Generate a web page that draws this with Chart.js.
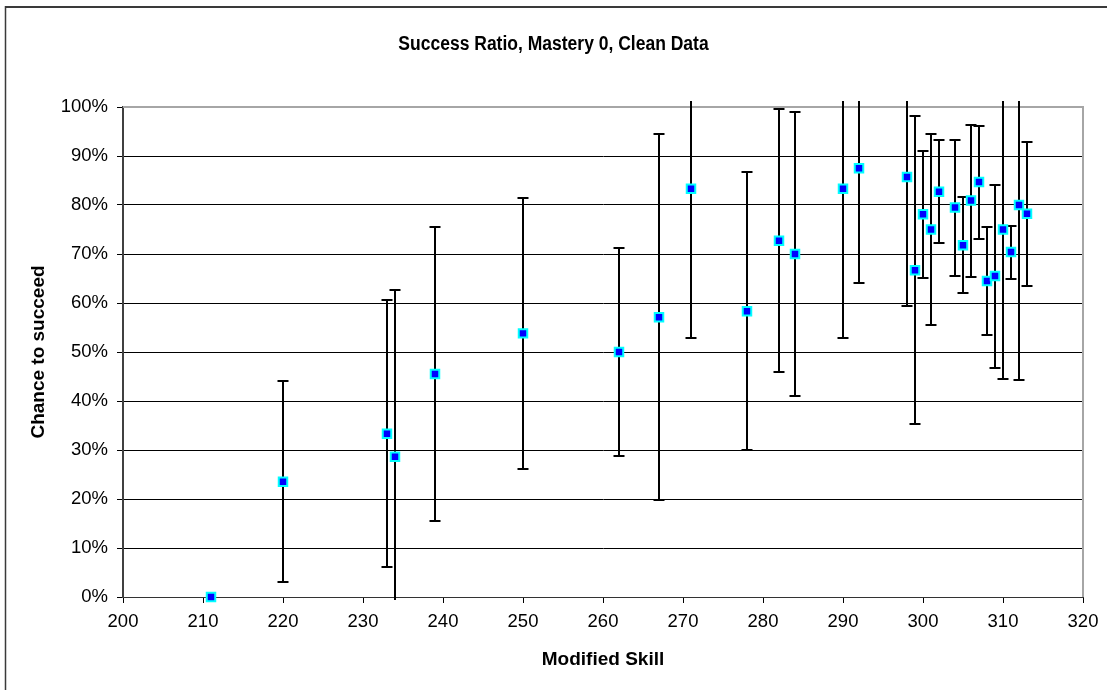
<!DOCTYPE html>
<html>
<head>
<meta charset="utf-8">
<title>Success Ratio, Mastery 0, Clean Data</title>
<script src="https://cdn.jsdelivr.net/npm/chart.js@4/dist/chart.umd.min.js"></script>
<style>
  html, body { margin: 0; padding: 0; background: #fff; }
  #wrap { width: 1107px; height: 690px; }
</style>
</head>
<body>
<div id="wrap"><canvas id="c" width="1107" height="690"></canvas></div>
<script>
// Modified skill level of each group of attempts
const skill = [211, 220, 233, 234, 239, 250, 262, 267, 271, 278, 282, 284, 290, 292, 298,
               299, 300, 301, 302, 304, 305, 306, 307, 308, 309, 310, 311, 312, 313];
// Observed success ratio (%)
const ratio = [0, 23.5, 33.3, 28.6, 45.5, 53.8, 50.0, 57.1, 83.3, 58.3, 72.7, 70.0, 83.3, 87.5, 85.7,
               66.7, 78.1, 75.0, 82.7, 79.5, 71.8, 80.9, 84.7, 64.5, 65.5, 75.0, 70.4, 80.0, 78.2];
// Lower and upper ends of each error bar (%)
const errLow  = [0, 3.0, 6.1, -5.5, 15.5, 26.2, 28.7, 19.8, 52.9, 29.9, 45.9, 41.0, 52.9, 64.1, 59.3,
                 35.3, 65.2, 55.6, 72.2, 65.6, 62.0, 65.4, 73.1, 53.5, 46.8, 44.4, 65.0, 44.2, 63.5];
const errHigh = [0, 44.0, 60.6, 62.7, 75.5, 81.4, 71.3, 94.5, 113.7, 86.8, 99.5, 99.0, 113.7, 110.9, 112.1,
                 98.1, 91.0, 94.4, 93.2, 93.3, 81.6, 96.3, 96.2, 75.5, 84.1, 105.6, 75.8, 115.8, 92.8];
// Axis ticks
const xTicks = [200, 210, 220, 230, 240, 250, 260, 270, 280, 290, 300, 310, 320];
const yTicks = [0, 10, 20, 30, 40, 50, 60, 70, 80, 90, 100];
const chartTitle = 'Success Ratio, Mastery 0, Clean Data';

const FONT = "'Liberation Sans', Arial, Helvetica, sans-serif";

// Outer chart frame and the (slightly condensed) bold chart title
const chartFrame = {
  id: 'chartFrame',
  beforeDraw(chart) {
    const ctx = chart.ctx;
    ctx.save();
    ctx.strokeStyle = '#3a3a3a';
    ctx.lineWidth = 2;
    ctx.beginPath();
    ctx.moveTo(5, 7); ctx.lineTo(chart.width, 7);
    ctx.stroke();
    ctx.lineWidth = 1.5;
    ctx.beginPath();
    ctx.moveTo(5.5, 6); ctx.lineTo(5.5, chart.height);
    ctx.stroke();

    ctx.translate(chart.width / 2, 44);
    ctx.scale(0.875, 1);
    ctx.fillStyle = '#000';
    ctx.font = 'bold 20px ' + FONT;
    ctx.textAlign = 'center';
    ctx.textBaseline = 'middle';
    ctx.fillText(chartTitle, 0, 0);
    ctx.restore();
  }
};

// Plot-area edges and vertical error bars with caps
const errorBars = {
  id: 'errorBars',
  beforeDatasetsDraw(chart) {
    const { ctx, chartArea: a, scales: { x, y } } = chart;
    ctx.save();
    ctx.strokeStyle = '#a6a6a6';
    ctx.lineWidth = 2;
    ctx.beginPath();
    ctx.moveTo(a.left, a.top); ctx.lineTo(a.right, a.top); ctx.lineTo(a.right, a.bottom);
    ctx.stroke();

    ctx.beginPath();
    ctx.rect(a.left, a.top - 6, a.right - a.left + 2, a.bottom - a.top + 9);
    ctx.clip();
    ctx.strokeStyle = '#000';
    ctx.lineWidth = 2;
    skill.forEach((s, i) => {
      if (errLow[i] === errHigh[i]) return;
      const px = Math.round(x.getPixelForValue(s));
      const yl = Math.round(y.getPixelForValue(errLow[i]));
      const yh = Math.round(y.getPixelForValue(errHigh[i]));
      ctx.beginPath();
      ctx.moveTo(px, yl); ctx.lineTo(px, yh);
      ctx.moveTo(px - 5.5, yl); ctx.lineTo(px + 5.5, yl);
      ctx.moveTo(px - 5.5, yh); ctx.lineTo(px + 5.5, yh);
      ctx.stroke();
    });
    ctx.restore();
  }
};

new Chart(document.getElementById('c'), {
  type: 'scatter',
  data: {
    datasets: [{
      label: 'Success ratio',
      data: skill.map((s, i) => ({ x: s, y: ratio[i] })),
      pointStyle: 'rect',
      pointRadius: 6,
      pointHoverRadius: 6,
      pointBackgroundColor: '#0000ff',
      pointBorderColor: '#00ffff',
      pointBorderWidth: 2,
      showLine: false,
      clip: false
    }]
  },
  options: {
    responsive: false,
    animation: false,
    devicePixelRatio: 1,
    events: [],
    layout: { padding: { top: 107, left: 0, right: 0, bottom: 0 } },
    plugins: {
      legend: { display: false },
      tooltip: { enabled: false },
      title: { display: false }
    },
    scales: {
      x: {
        type: 'linear',
        min: 200,
        max: 320,
        afterBuildTicks(scale) { scale.ticks = xTicks.map(v => ({ value: v })); },
        afterFit(scale) {
          scale.height = 93;
          scale.paddingLeft = 0;
          scale.paddingRight = 24;
        },
        ticks: {
          color: '#000',
          padding: 8,
          maxRotation: 0,
          font: { family: FONT, size: 18.5 }
        },
        grid: {
          drawOnChartArea: false,
          drawTicks: true,
          tickLength: 6,
          tickColor: '#000',
          tickWidth: 1
        },
        border: { color: '#333', width: 1 },
        title: {
          display: true,
          text: 'Modified Skill',
          color: '#000',
          font: { family: FONT, size: 19, weight: 'bold', lineHeight: 1.2 },
          padding: { top: 0, bottom: 19 }
        }
      },
      y: {
        type: 'linear',
        min: 0,
        max: 100,
        afterBuildTicks(scale) { scale.ticks = yTicks.map(v => ({ value: v })); },
        afterFit(scale) {
          scale.width = 123;
          scale.paddingTop = 0;
          scale.paddingBottom = 0;
        },
        ticks: {
          color: '#000',
          padding: 9,
          font: { family: FONT, size: 18.5 },
          callback: v => v + '%'
        },
        grid: {
          color: c => (c.tick && c.tick.value === 100) ? 'rgba(0,0,0,0)' : '#000',
          lineWidth: 1,
          drawTicks: true,
          tickLength: 6,
          tickColor: '#000',
          tickWidth: 1
        },
        border: { color: '#404040', width: 2 },
        title: {
          display: true,
          text: 'Chance to succeed',
          color: '#000',
          font: { family: FONT, size: 19, weight: 'bold', lineHeight: 1.2 },
          padding: { top: 27, bottom: 0 }
        }
      }
    }
  },
  plugins: [chartFrame, errorBars]
});
</script>
</body>
</html>
